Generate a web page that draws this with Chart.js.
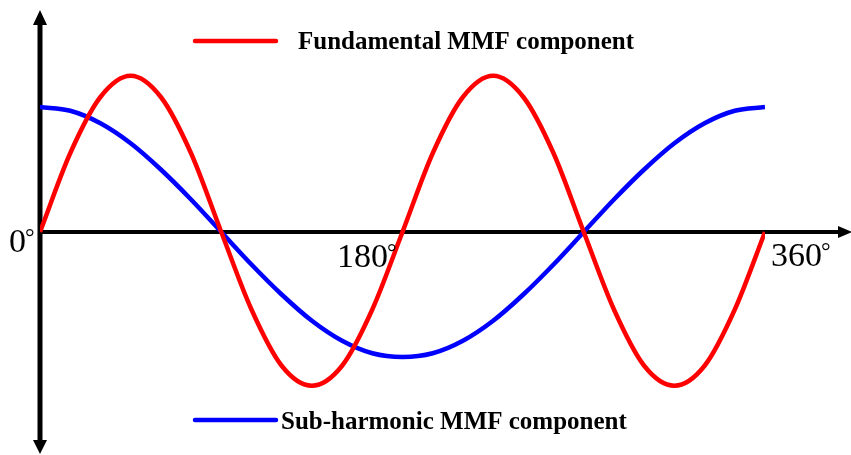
<!DOCTYPE html>
<html>
<head>
<meta charset="utf-8">
<script src="https://cdn.jsdelivr.net/npm/chart.js@4/dist/chart.umd.min.js"></script>
<style>
  html, body { margin: 0; padding: 0; background: #fff; }
  #wrap { width: 851px; height: 455px; }
</style>
</head>
<body>
<div id="wrap"><canvas id="mmf" width="851" height="455"></canvas></div>
<script>
// angle in degrees, read every 15 deg off the picture
const angles = [0, 15, 30, 45, 60, 75, 90, 105, 120, 135, 150, 165, 180,
                195, 210, 225, 240, 255, 270, 285, 300, 315, 330, 345, 360];
// fundamental (red), blue peak = 1
const fundamental = [0, 0.63, 1.08, 1.25, 1.08, 0.63, 0, -0.62, -1.07, -1.23, -1.07, -0.62, 0,
                     0.63, 1.08, 1.25, 1.08, 0.63, 0, -0.62, -1.07, -1.23, -1.07, -0.62, 0];
// sub-harmonic (blue)
const subHarmonic = [1.0, 0.97, 0.87, 0.71, 0.5, 0.26, 0, -0.26, -0.5, -0.71, -0.87, -0.97, -1.0,
                     -0.97, -0.87, -0.71, -0.5, -0.26, 0, 0.26, 0.5, 0.71, 0.87, 0.97, 1.0];
const tickLabels = [[0, "0"], [180, "180"], [360, "360"]];
const legendNames = ["Fundamental MMF component", "Sub-harmonic MMF component"];

const pts = ys => angles.map((a, i) => ({ x: a, y: ys[i] }));
const SERIF = '"Liberation Serif", "Times New Roman", serif';

function arrow(ctx, x, y, dir) {
    // dir: 'up', 'down', 'right'
    ctx.beginPath();
    if (dir == "up") { ctx.moveTo(x, y); ctx.lineTo(x - 7, y + 15); ctx.lineTo(x + 7, y + 15); }
    if (dir == "down") { ctx.moveTo(x, y); ctx.lineTo(x - 7, y - 14); ctx.lineTo(x + 7, y - 14); }
    if (dir == "right") { ctx.moveTo(x, y); ctx.lineTo(x - 14, y - 6); ctx.lineTo(x - 14, y + 6); }
    ctx.closePath();
    ctx.fill();
}

const axesPlugin = {
    id: "axes",
    beforeDatasetsDraw(chart) {
        const ctx = chart.ctx, xs = chart.scales.x, ys = chart.scales.y;
        const x0 = xs.getPixelForValue(0), y0 = ys.getPixelForValue(0);
        ctx.save();
        ctx.fillStyle = "#000";
        ctx.strokeStyle = "#000";
        // vertical axis
        ctx.lineWidth = 5;
        ctx.beginPath(); ctx.moveTo(x0, 22); ctx.lineTo(x0, 443); ctx.stroke();
        arrow(ctx, x0, 10, "up");
        arrow(ctx, x0, 454, "down");
        // horizontal axis
        ctx.lineWidth = 4;
        ctx.beginPath(); ctx.moveTo(x0, y0); ctx.lineTo(840, y0); ctx.stroke();
        arrow(ctx, 852, y0, "right");
        ctx.restore();
    },
    afterDatasetsDraw(chart) {
        const ctx = chart.ctx, xs = chart.scales.x, ys = chart.scales.y;
        const y0 = ys.getPixelForValue(0);
        ctx.save();
        ctx.fillStyle = "#000";
        ctx.textBaseline = "alphabetic";
        // degree labels
        const pos = { 0: [9, y0 + 20], 180: [337, y0 + 35], 360: [771, y0 + 34] };
        tickLabels.forEach(([v, t]) => {
            const [lx, ly] = pos[v];
            ctx.font = "34px " + SERIF;
            ctx.fillText(t, lx, ly);
            const w = ctx.measureText(t).width;
            ctx.font = "24px " + SERIF;
            ctx.fillText("\u00b0", lx + w - 1, ly - 7);
        });
        // legend entries
        const items = [
            { color: "#ff0000", y: 41, tx: 298, ty: 49, name: legendNames[0] },
            { color: "#0000ff", y: 420, tx: 281, ty: 429, name: legendNames[1] }
        ];
        items.forEach(it => {
            ctx.strokeStyle = it.color;
            ctx.lineWidth = 4.5;
            ctx.lineCap = "round";
            ctx.beginPath(); ctx.moveTo(195, it.y); ctx.lineTo(276, it.y); ctx.stroke();
            ctx.font = "bold 25px " + SERIF;
            ctx.fillText(it.name, it.tx, it.ty);
        });
        ctx.restore();
    }
};

new Chart(document.getElementById("mmf"), {
    type: "line",
    data: {
        datasets: [
            {
                label: legendNames[0],
                data: pts(fundamental),
                borderColor: "#ff0000",
                borderWidth: 4.5,
                pointRadius: 0,
                cubicInterpolationMode: "monotone",
                fill: false
            },
            {
                label: legendNames[1],
                data: pts(subHarmonic),
                borderColor: "#0000ff",
                borderWidth: 4.5,
                pointRadius: 0,
                cubicInterpolationMode: "monotone",
                fill: false
            }
        ]
    },
    options: {
        responsive: false,
        animation: false,
        devicePixelRatio: 1,
        layout: { padding: { left: 40, right: 86, top: 10, bottom: 1 } },
        plugins: { legend: { display: false }, tooltip: { enabled: false } },
        scales: {
            x: { type: "linear", min: 0, max: 360, display: false },
            y: { min: -1.776, max: 1.776, display: false }
        }
    },
    plugins: [axesPlugin]
});
</script>
</body>
</html>
